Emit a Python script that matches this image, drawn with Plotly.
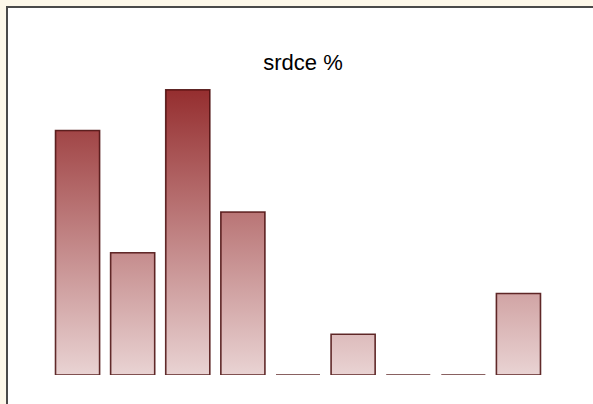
import plotly.graph_objects as go

# Data
categories = ["1", "2", "3", "4", "5", "6", "7", "8", "9"]
values = [6, 3, 7, 4, 0, 1, 0, 0, 2]
title_text = "srdce %"

W, H = 593, 404
L, R, T, B = 50, 47, 49, 29
plot_w = W - L - R
plot_h = H - T - B
y_max = 8
bar_half = 0.4

xs, ys = [], []
for i, v in enumerate(values):
    xs += [i - bar_half, i - bar_half, i + bar_half, i + bar_half, i - bar_half, None]
    ys += [0, v, v, 0, 0, None]

fig = go.Figure()
fig.add_trace(go.Scatter(
    x=xs, y=ys, mode="lines", fill="toself",
    line=dict(color="rgba(70,8,8,0.85)", width=1.6),
    fillgradient=dict(type="vertical",
                      colorscale=[[0, "#e9d3d3"], [1, "#952e2f"]],
                      start=0, stop=max(values)),
    hoverinfo="skip", showlegend=False,
))

# frame (white panel with dark border, page background cream)
def px_to_paper_x(px):
    return (px - L) / plot_w

def px_to_paper_y(py):
    return (H - B - py) / plot_h

fig.add_shape(type="rect", xref="paper", yref="paper", layer="below",
              x0=px_to_paper_x(7), x1=px_to_paper_x(W + 10),
              y0=px_to_paper_y(H + 10), y1=px_to_paper_y(7),
              fillcolor="white", line=dict(color="#4a4a4a", width=2))

fig.update_layout(
    width=W, height=H,
    margin=dict(l=L, r=R, t=T, b=B),
    paper_bgcolor="#fdf8ea",
    plot_bgcolor="rgba(0,0,0,0)",
    title=dict(text=title_text, xref="container", yref="container",
               x=303 / W, y=1 - 62 / H, xanchor="center", yanchor="middle",
               font=dict(family="Liberation Sans, Arial", size=22, color="black")),
    xaxis=dict(range=[-0.5, len(values) - 0.5], visible=False, fixedrange=True),
    yaxis=dict(range=[0, y_max], visible=False, fixedrange=True),
    showlegend=False,
)

fig.write_html("out.html", config={"displayModeBar": False},
               post_script="document.body.style.margin='0';"
                           "document.body.style.background='#fdf8ea';"
                           "document.body.style.overflow='hidden';")
